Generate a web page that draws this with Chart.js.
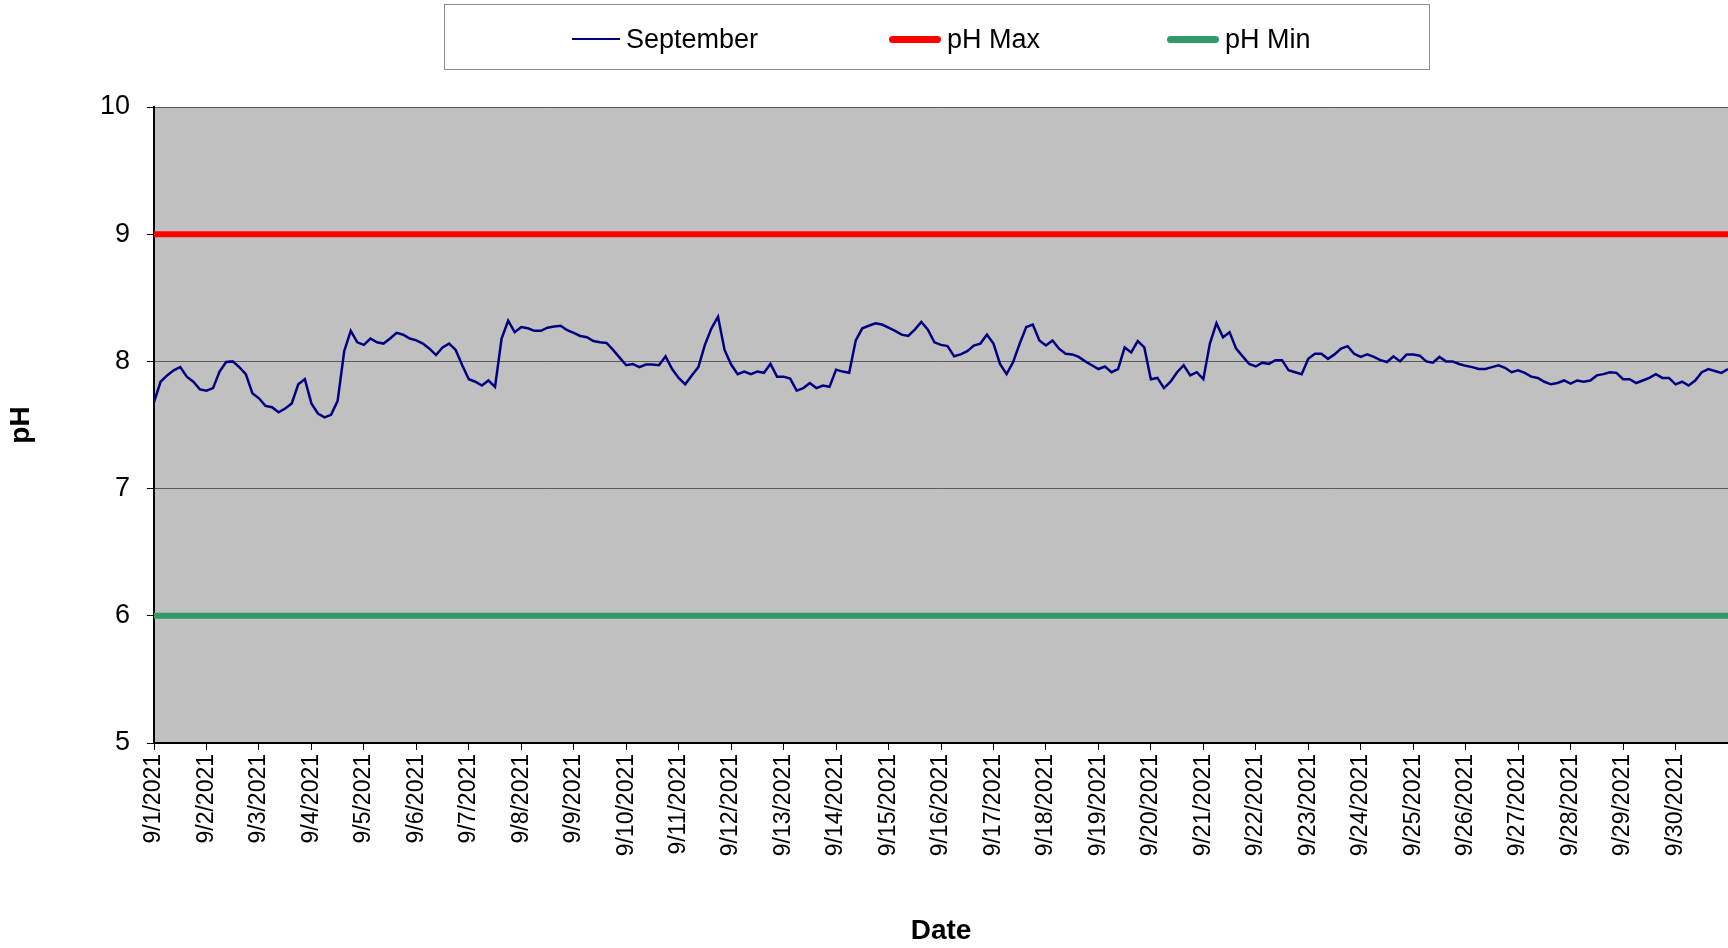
<!DOCTYPE html>
<html>
<head>
<meta charset="utf-8">
<script src="https://cdn.jsdelivr.net/npm/chart.js@4"></script>
<style>
  body { margin: 0; background: #fff; font-family: 'Liberation Sans', Arial, sans-serif; }
  #wrap { position: relative; width: 1728px; height: 948px; }
  #legend {
    position: absolute; left: 444px; top: 4px; width: 986px; height: 66px;
    border: 1px solid #8c8c8c; background: #fff; box-sizing: border-box;
  }
  .item { position: absolute; top: 2px; height: 64px; display: flex; align-items: center; font-size: 27px; color: #000; }
  .swatch { display: inline-block; margin-right: 6px; border-radius: 4px; }
</style>
</head>
<body>
<div id="wrap">
  <canvas id="phChart"></canvas>
  <div id="legend"></div>
</div>
<script>
// Data
const dayLabels = [
  '9/1/2021', '9/2/2021', '9/3/2021', '9/4/2021', '9/5/2021', '9/6/2021', '9/7/2021', '9/8/2021',
  '9/9/2021', '9/10/2021', '9/11/2021', '9/12/2021', '9/13/2021', '9/14/2021', '9/15/2021',
  '9/16/2021', '9/17/2021', '9/18/2021', '9/19/2021', '9/20/2021', '9/21/2021', '9/22/2021',
  '9/23/2021', '9/24/2021', '9/25/2021', '9/26/2021', '9/27/2021', '9/28/2021', '9/29/2021', '9/30/2021'
];
const sampleHours = 3; // one reading every 3 hours from 9/1 00:00
const septemberPH = [
  7.68, 7.84, 7.89, 7.93, 7.955, 7.88, 7.84, 7.78, 7.77, 7.79, 7.92, 7.995, 8.0, 7.955, 7.90, 7.75,
  7.71, 7.65, 7.64, 7.60, 7.63, 7.67, 7.82, 7.86, 7.67, 7.59, 7.56, 7.58, 7.69, 8.08, 8.24, 8.15,
  8.13, 8.18, 8.15, 8.14, 8.18, 8.225, 8.21, 8.18, 8.165, 8.14, 8.10, 8.05, 8.11, 8.14, 8.09, 7.97,
  7.86, 7.84, 7.81, 7.85, 7.80, 8.18, 8.32, 8.23, 8.27, 8.26, 8.24, 8.24, 8.265, 8.275, 8.28, 8.245,
  8.225, 8.20, 8.19, 8.16, 8.15, 8.145, 8.09, 8.03, 7.97, 7.98, 7.955, 7.975, 7.975, 7.97, 8.04, 7.94,
  7.87, 7.82, 7.89, 7.955, 8.13, 8.26, 8.35, 8.09, 7.975, 7.90, 7.92, 7.90, 7.92, 7.91, 7.98, 7.88,
  7.88, 7.865, 7.77, 7.79, 7.83, 7.79, 7.81, 7.80, 7.935, 7.92, 7.91, 8.165, 8.26, 8.28, 8.30, 8.29,
  8.265, 8.24, 8.21, 8.20, 8.25, 8.31, 8.25, 8.15, 8.13, 8.12, 8.04, 8.055, 8.08, 8.125, 8.14, 8.21,
  8.14, 7.98, 7.90, 7.995, 8.14, 8.27, 8.29, 8.165, 8.125, 8.165, 8.10, 8.06, 8.055, 8.035, 8.00, 7.97,
  7.94, 7.96, 7.915, 7.94, 8.11, 8.07, 8.16, 8.11, 7.86, 7.87, 7.79, 7.84, 7.915, 7.97, 7.89, 7.915,
  7.86, 8.14, 8.30, 8.19, 8.23, 8.10, 8.04, 7.98, 7.96, 7.99, 7.98, 8.01, 8.01, 7.93, 7.915, 7.90,
  8.02, 8.06, 8.06, 8.02, 8.055, 8.10, 8.12, 8.06, 8.035, 8.055, 8.035, 8.01, 7.995, 8.04, 8.00, 8.055,
  8.055, 8.045, 8.00, 7.99, 8.035, 8.00, 8.00, 7.98, 7.965, 7.955, 7.94, 7.94, 7.955, 7.97, 7.95, 7.915,
  7.93, 7.91, 7.88, 7.87, 7.84, 7.82, 7.83, 7.85, 7.825, 7.85, 7.84, 7.85, 7.89, 7.90, 7.915, 7.91,
  7.86, 7.86, 7.83, 7.85, 7.87, 7.90, 7.87, 7.87, 7.82, 7.84, 7.81, 7.85, 7.915, 7.94, 7.925, 7.91,
  7.94
];
const phMax = 9;
const phMin = 6;
const yMin = 5;
const yMax = 10;

// Layout (pixel geometry of the plot)
const PLOT_LEFT = 154;
const PLOT_TOP = 107;
const X_AXIS_HEIGHT = 205;
const FONT = "'Liberation Sans', Arial, sans-serif";

const totalDays = dayLabels.length;
const septemberData = septemberPH.map((v, i) => ({ x: i * sampleHours / 24, y: v }));
const limitLine = v => [{ x: 0, y: v }, { x: totalDays, y: v }];

const plotBackground = {
    id: 'plotBackground',
    beforeDraw(chart) {
        const { ctx, chartArea: a } = chart;
        ctx.save();
        ctx.fillStyle = '#c0c0c0';
        ctx.fillRect(a.left, a.top, a.right - a.left, a.bottom - a.top);
        ctx.restore();
    }
};

const ctx = document.getElementById('phChart').getContext('2d');
const chart = new Chart(ctx, {
    type: 'line',
    data: {
        datasets: [
            {
                label: 'September',
                data: septemberData,
                borderColor: '#000080',
                borderWidth: 2.5,
                pointRadius: 0,
                tension: 0,
                order: 0
            },
            {
                label: 'pH Max',
                data: limitLine(phMax),
                borderColor: '#ff0000',
                borderWidth: 6,
                pointRadius: 0,
                order: 1
            },
            {
                label: 'pH Min',
                data: limitLine(phMin),
                borderColor: '#339966',
                borderWidth: 6,
                pointRadius: 0,
                order: 1
            }
        ]
    },
    options: {
        responsive: true,
        maintainAspectRatio: false,
        animation: false,
        layout: { padding: { top: PLOT_TOP, right: 0, left: 0, bottom: 0 } },
        plugins: {
            legend: { display: false },
            tooltip: { enabled: false }
        },
        scales: {
            x: {
                type: 'linear',
                min: 0,
                max: totalDays,
                afterFit(scale) {
                    scale.height = X_AXIS_HEIGHT;
                    scale.paddingLeft = 0;
                    scale.paddingRight = 0;
                },
                grid: { drawOnChartArea: false, tickLength: 7, tickColor: '#000', lineWidth: 1 },
                border: { color: '#000', width: 2 },
                ticks: {
                    stepSize: 1,
                    autoSkip: false,
                    minRotation: 90,
                    maxRotation: 90,
                    padding: 4,
                    color: '#000',
                    font: { family: FONT, size: 23 },
                    callback: v => dayLabels[v] || ''
                },
                title: {
                    display: true,
                    text: 'Date',
                    color: '#000',
                    font: { family: FONT, size: 28, weight: 'bold' },
                    padding: { top: 0, bottom: 0 }
                }
            },
            y: {
                min: yMin,
                max: yMax,
                afterFit(scale) { scale.width = PLOT_LEFT; },
                grid: { color: '#5a5a5a', lineWidth: 1, tickLength: 7, tickColor: '#000' },
                border: { color: '#000', width: 2 },
                ticks: {
                    stepSize: 1,
                    padding: 17,
                    color: '#000',
                    font: { family: FONT, size: 27 }
                },
                title: {
                    display: true,
                    text: 'pH',
                    color: '#000',
                    font: { family: FONT, size: 28, weight: 'bold' },
                    padding: { top: 4, bottom: 4 }
                }
            }
        }
    },
    plugins: [plotBackground]
});

// Legend built from the datasets
const legendPos = [127, 444, 722];
const legendEl = document.getElementById('legend');
chart.data.datasets.forEach((ds, i) => {
    const item = document.createElement('div');
    item.className = 'item';
    item.style.left = legendPos[i] + 'px';
    const sw = document.createElement('span');
    sw.className = 'swatch';
    sw.style.width = (i === 0 ? 48 : 52) + 'px';
    sw.style.height = (i === 0 ? 2 : 7) + 'px';
    sw.style.background = ds.borderColor;
    if (i === 0) sw.style.borderRadius = '0';
    item.appendChild(sw);
    const label = document.createElement('span');
    label.textContent = ds.label;
    item.appendChild(label);
    legendEl.appendChild(item);
});
</script>
</body>
</html>
